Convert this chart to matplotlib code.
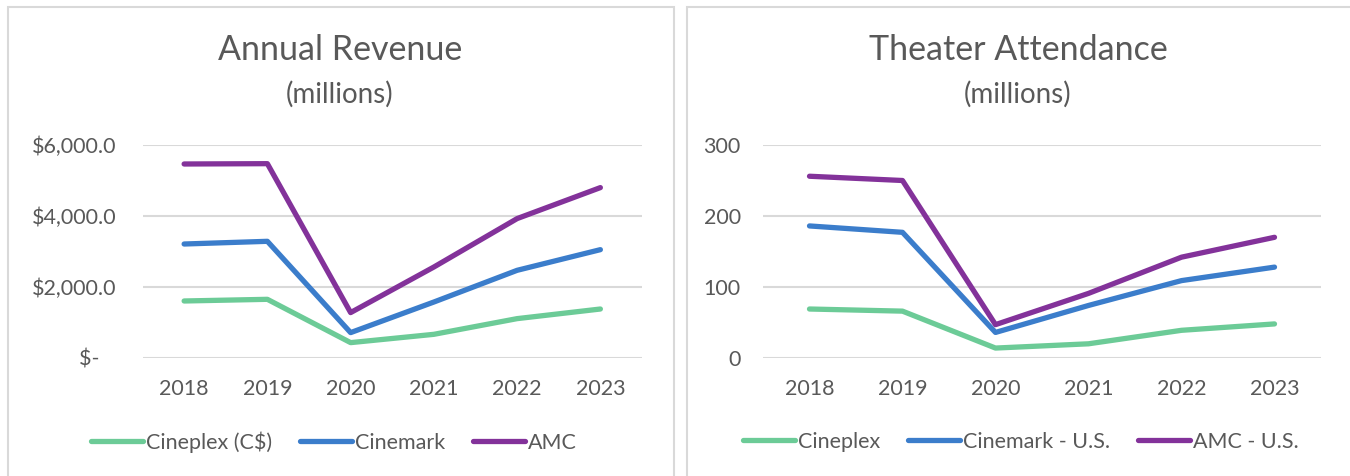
import matplotlib
matplotlib.use("Agg")
import matplotlib.pyplot as plt
from matplotlib.patches import Rectangle
from matplotlib.lines import Line2D

years = ["2018", "2019", "2020", "2021", "2022", "2023"]

# Annual revenue (millions)
rev_cineplex = [1606, 1653, 433, 667, 1109, 1380]
rev_cinemark = [3211, 3287, 715, 1577, 2470, 3052]
rev_amc = [5465, 5474, 1279, 2563, 3927, 4800]

# Theater attendance (millions)
att_cineplex = [69, 66, 14, 20, 39, 48]
att_cinemark = [186, 177, 36, 74, 109, 128]
att_amc = [256, 250, 47, 91, 142, 170]

rev_ticks = [0, 2000, 4000, 6000]
rev_ticklabels = ["$-   ", "$2,000.0", "$4,000.0", "$6,000.0"]
att_ticks = [0, 100, 200, 300]

GREEN = "#6CCB97"
BLUE = "#3B7DCB"
PURPLE = "#83329A"
TXT = "#595959"
GRID = "#D9D9D9"

plt.rcParams["font.family"] = ["Lato", "DejaVu Sans"]

W, H = 1350, 476
fig = plt.figure(figsize=(W / 100, H / 100), dpi=100)

# chart frames
fig.patches.append(Rectangle((8 / W, -0.01), 666 / W, 1 - 7 / H + 0.01,
                             transform=fig.transFigure, fill=False,
                             edgecolor=GRID, lw=1.5))
fig.patches.append(Rectangle((687 / W, -0.01), 680 / W, 1 - 7 / H + 0.01,
                             transform=fig.transFigure, fill=False,
                             edgecolor=GRID, lw=1.5))


def make_chart(left, right, title, series, labels, ticks, ticklabels, ymax,
               cx, leg_x, ypad):
    ax = fig.add_axes([left / W, (H - 358) / H, (right - left) / W, 213 / H])
    x = range(len(years))
    for vals, col, lab in zip(series, [GREEN, BLUE, PURPLE], labels):
        ax.plot(x, vals, color=col, lw=3.8, solid_capstyle="round",
                solid_joinstyle="round", label=lab)
    ax.set_xlim(-0.5, len(years) - 0.5)
    ax.set_ylim(0, ymax)
    ax.set_xticks(list(x))
    ax.set_xticklabels(years)
    ax.set_yticks(ticks)
    ax.set_yticklabels(ticklabels)
    ax.tick_params(length=0, labelsize=15.5, colors=TXT)
    ax.tick_params(axis="x", pad=15)
    ax.tick_params(axis="y", pad=ypad)
    for s in ax.spines.values():
        s.set_visible(False)
    ax.grid(axis="y", color=GRID, lw=1.5)
    ax.set_axisbelow(True)

    fig.text(cx / W, 1 - 50 / H, title, ha="center", va="center",
             fontsize=24.5, color=TXT)
    fig.text(cx / W, 1 - 94 / H, "(millions)", ha="center", va="center",
             fontsize=20, color=TXT)

    handles = [Line2D([0], [0], color=c, lw=3.8, solid_capstyle="round")
               for c in [GREEN, BLUE, PURPLE]]
    fig.legend(handles, labels, loc="center left",
               bbox_to_anchor=(leg_x / W, 1 - 442 / H), ncol=3, frameon=False,
               fontsize=15.5, labelcolor=TXT, handlelength=2.4,
               handletextpad=0.15, columnspacing=1.3,
               borderpad=0, borderaxespad=0)
    return ax


make_chart(142.5, 642, "Annual Revenue",
           [rev_cineplex, rev_cinemark, rev_amc],
           ["Cineplex (C$)", "Cinemark", "AMC"],
           rev_ticks, rev_ticklabels, 6000, 340, 91, 19)
make_chart(763, 1321, "Theater Attendance",
           [att_cineplex, att_cinemark, att_amc],
           ["Cineplex", "Cinemark - U.S.", "AMC - U.S."],
           att_ticks, [str(t) for t in att_ticks], 300, 1018, 743, 16)

fig.savefig("out.png", dpi=100)
